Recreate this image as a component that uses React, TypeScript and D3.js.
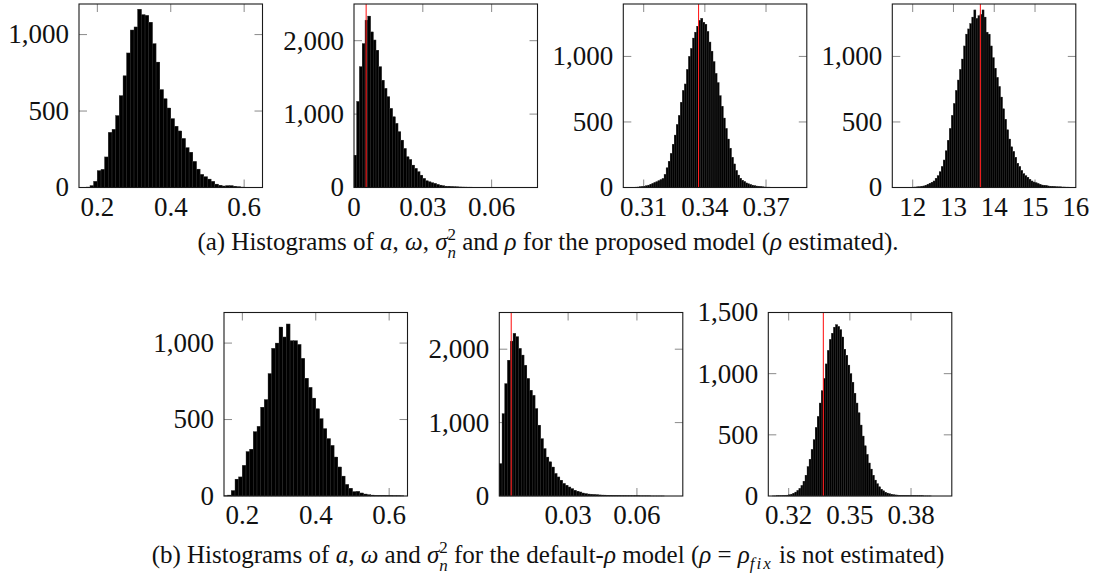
import React, { useEffect, useRef } from 'react';
import * as d3 from 'd3';

// ---- histogram counts ----
// top row: proposed model (rho estimated)
const aTopStart = 0.17;
const aTopWidth = 0.01;
const aTopCounts = [
  3, 12, 40, 110, 118, 200, 360, 380, 470, 600, 730, 880, 1030, 1050, 1165, 1130, 1125, 1080,
  940, 820, 640, 580, 520, 450, 400, 370, 320, 260, 230, 170, 120, 85, 70, 55, 40, 22, 14, 10,
  12, 12, 8, 5, 3, 2, 1
];

const omegaTopStart = 0;
const omegaTopWidth = 0.0012;
const omegaTopCounts = [
  440, 1170, 1645, 1960, 2280, 2335, 2120, 2010, 1870, 1645, 1460, 1350, 1236, 1077, 963, 873,
  760, 645, 530, 418, 380, 305, 260, 214, 168, 123, 91, 77, 64, 55, 41, 32, 23, 18, 16, 12, 11,
  9, 8, 7, 6, 5, 5, 4, 4, 3, 3, 3, 2, 2, 2, 2, 1, 1, 1, 1, 1, 1, 1, 1
];

const sigmaTopStart = 0.303;
const sigmaTopWidth = 0.001;
const sigmaTopCounts = [
  1, 1, 2, 3, 4, 6, 8, 10, 13, 18, 25, 31, 38, 44, 52, 60, 68, 100, 150, 200, 260, 330, 400,
  480, 550, 650, 740, 790, 900, 1000, 1060, 1140, 1185, 1230, 1275, 1290, 1260, 1245, 1190,
  1110, 1040, 960, 870, 800, 700, 620, 530, 450, 370, 300, 230, 180, 130, 95, 70, 55, 45, 35,
  28, 22, 18, 14, 11, 9, 7, 5, 4, 3, 3, 2, 2, 1, 1, 1
];

const rhoTopStart = 11.9;
const rhoTopWidth = 0.05;
const rhoTopCounts = [
  2, 2, 3, 4, 5, 6, 9, 12, 17, 24, 32, 40, 50, 70, 90, 120, 160, 210, 280, 360, 450, 550, 640,
  740, 820, 900, 980, 1080, 1170, 1210, 1250, 1300, 1355, 1290, 1310, 1320, 1355, 1300, 1185,
  1170, 1080, 990, 910, 840, 770, 690, 600, 520, 440, 370, 310, 275, 230, 185, 160, 130, 105,
  90, 78, 62, 50, 42, 36, 30, 24, 19, 17, 15, 12, 10, 9, 8, 6, 5, 5, 4, 4, 3, 3, 2, 2, 1
];

// bottom row: default-rho model
const aBotStart = 0.15;
const aBotWidth = 0.01;
const aBotCounts = [
  1, 6, 35, 110, 125, 200, 290, 305, 420, 455, 580, 630, 800, 965, 1000, 1105, 1040, 1125,
  1015, 1015, 990, 900, 770, 710, 640, 570, 505, 440, 375, 330, 255, 190, 130, 75, 50, 28, 30,
  20, 13, 8, 6, 4, 4, 4, 3, 3, 2, 2, 1
];

const omegaBotStart = 0;
const omegaBotWidth = 0.0012;
const omegaBotCounts = [
  440, 1120, 1530, 1850, 2110, 2215, 2170, 2010, 1920, 1780, 1600, 1440, 1370, 1190, 965, 780,
  645, 530, 465, 395, 305, 260, 215, 170, 145, 123, 100, 77, 64, 55, 41, 32, 27, 23, 20, 18, 15,
  13, 12, 10, 9, 8, 7, 6, 5, 5, 4, 4, 3, 3, 3, 2, 2, 2, 2, 1, 1, 1, 1, 1
];

const sigmaBotStart = 0.312;
const sigmaBotWidth = 0.001;
const sigmaBotCounts = [
  1, 1, 2, 2, 3, 4, 5, 7, 10, 15, 22, 32, 45, 62, 85, 120, 170, 240, 300, 380, 460, 560, 650,
  760, 860, 960, 1080, 1190, 1280, 1330, 1380, 1400, 1385, 1360, 1300, 1200, 1150, 1070, 1000,
  930, 840, 760, 680, 580, 490, 410, 340, 270, 220, 170, 130, 100, 75, 55, 42, 30, 24, 18, 14,
  11, 9, 8, 6, 5, 5, 4, 4, 3, 3, 3, 2, 2, 2, 2, 1, 1, 1, 1
];

// ---- axes ----
const aDomain = [0.15, 0.65];
const omegaDomain = [0, 0.08];
const sigmaTopDomain = [0.3, 0.39];
const rhoDomain = [11.5, 16];
const sigmaBotDomain = [0.31, 0.4];

const aTicks = [0.2, 0.4, 0.6];
const omegaTopTicks = [0, 0.03, 0.06];
const omegaBotTicks = [0.03, 0.06];
const sigmaTopTicks = [0.31, 0.34, 0.37];
const rhoTicks = [12, 13, 14, 15, 16];
const sigmaBotTicks = [0.32, 0.35, 0.38];

const yTicks1000 = [0, 500, 1000];
const yTicks2000 = [0, 1000, 2000];
const yTicks1500 = [0, 500, 1000, 1500];

const yMaxes = [1200, 2500, 1400, 1400, 1200, 2500, 1500];

// red reference lines
const omegaTopMark = 0.0053;
const sigmaTopMark = 0.3369;
const rhoTopMark = 13.66;
const omegaBotMark = 0.0052;
const sigmaBotMark = 0.337;

const SIZE = 183.5;
const LABEL_FONT = '"Liberation Serif", "Times New Roman", serif';

const App = () => {
  const svgRef = useRef<SVGSVGElement>(null);

  useEffect(() => {
    const svg = d3.select(svgRef.current);
    svg.selectAll('*').remove();

    const panels = [
      { counts: aTopCounts, start: aTopStart, w: aTopWidth, dom: aDomain, xt: aTicks, yt: yTicks1000, left: 79, top: 4, mark: null },
      { counts: omegaTopCounts, start: omegaTopStart, w: omegaTopWidth, dom: omegaDomain, xt: omegaTopTicks, yt: yTicks2000, left: 354, top: 4, mark: omegaTopMark },
      { counts: sigmaTopCounts, start: sigmaTopStart, w: sigmaTopWidth, dom: sigmaTopDomain, xt: sigmaTopTicks, yt: yTicks1000, left: 623.3, top: 4, mark: sigmaTopMark },
      { counts: rhoTopCounts, start: rhoTopStart, w: rhoTopWidth, dom: rhoDomain, xt: rhoTicks, yt: yTicks1000, left: 892.3, top: 4, mark: rhoTopMark },
      { counts: aBotCounts, start: aBotStart, w: aBotWidth, dom: aDomain, xt: aTicks, yt: yTicks1000, left: 224, top: 312.5, mark: null },
      { counts: omegaBotCounts, start: omegaBotStart, w: omegaBotWidth, dom: omegaDomain, xt: omegaBotTicks, yt: yTicks2000, left: 499.3, top: 312.5, mark: omegaBotMark },
      { counts: sigmaBotCounts, start: sigmaBotStart, w: sigmaBotWidth, dom: sigmaBotDomain, xt: sigmaBotTicks, yt: yTicks1500, left: 768.3, top: 312.5, mark: sigmaBotMark }
    ];

    const fmtY = d3.format(',');
    const tickLen = 8;

    panels.forEach((p, idx) => {
      const x = d3.scaleLinear().domain(p.dom).range([p.left, p.left + SIZE]);
      const y = d3.scaleLinear().domain([0, yMaxes[idx]]).range([p.top + SIZE, p.top]);
      const g = svg.append('g');
      const x0 = p.left, x1 = p.left + SIZE, y0 = p.top, y1 = p.top + SIZE;

      // inner ticks on all four sides (drawn under the bars)
      p.xt.forEach(t => {
        const px = x(t);
        if (px <= x0 + 0.5 || px >= x1 - 0.5) return;
        g.append('line').attr('x1', px).attr('x2', px).attr('y1', y0).attr('y2', y0 + tickLen)
          .attr('stroke', '#8a8a8a').attr('stroke-width', 1);
        g.append('line').attr('x1', px).attr('x2', px).attr('y1', y1).attr('y2', y1 - tickLen)
          .attr('stroke', '#8a8a8a').attr('stroke-width', 1);
      });
      p.yt.forEach(t => {
        const py = y(t);
        if (py <= y0 + 0.5 || py >= y1 - 0.5) return;
        g.append('line').attr('x1', x0).attr('x2', x0 + tickLen).attr('y1', py).attr('y2', py)
          .attr('stroke', '#8a8a8a').attr('stroke-width', 1);
        g.append('line').attr('x1', x1).attr('x2', x1 - tickLen).attr('y1', py).attr('y2', py)
          .attr('stroke', '#8a8a8a').attr('stroke-width', 1);
      });

      // solid step silhouette under the bars, so no light seams show between them
      const steps = [...p.counts, 0];
      const area = d3.area<number>()
        .x((_d, i) => x(p.start + i * p.w))
        .y0(y(0))
        .y1(d => y(d))
        .curve(d3.curveStepAfter);
      g.append('path').attr('d', area(steps)).attr('fill', '#000');

      // histogram bars
      g.append('g')
        .selectAll('rect')
        .data(p.counts)
        .join('rect')
        .attr('x', (_d, i) => x(p.start + i * p.w))
        .attr('width', (_d, i) => x(p.start + (i + 1) * p.w) - x(p.start + i * p.w))
        .attr('y', d => y(d))
        .attr('height', d => y(0) - y(d))
        .attr('fill', '#000')
        .attr('stroke', '#404040')
        .attr('stroke-width', 0.4);

      // red reference line
      if (p.mark !== null) {
        g.append('line')
          .attr('x1', x(p.mark)).attr('x2', x(p.mark))
          .attr('y1', y0).attr('y2', y1)
          .attr('stroke', '#ff2020').attr('stroke-width', 1.1);
      }

      // frame
      g.append('rect')
        .attr('x', x0).attr('y', y0).attr('width', SIZE).attr('height', SIZE)
        .attr('fill', 'none').attr('stroke', '#1a1a1a').attr('stroke-width', 1.1);

      // tick labels
      p.xt.forEach(t => {
        g.append('text')
          .attr('x', x(t)).attr('y', y1 + 28)
          .attr('text-anchor', 'middle')
          .attr('font-family', LABEL_FONT).attr('font-size', 27).attr('fill', '#111')
          .text(String(t));
      });
      p.yt.forEach(t => {
        g.append('text')
          .attr('x', x0 - 10).attr('y', y(t)).attr('dy', '0.33em')
          .attr('text-anchor', 'end')
          .attr('font-family', LABEL_FONT).attr('font-size', 27).attr('fill', '#111')
          .text(fmtY(t));
      });
    });

    // captions
    const caption = (yPos: number, parts: [string, string][]) => {
      const t = svg.append('text')
        .attr('x', 548).attr('y', yPos)
        .attr('text-anchor', 'middle')
        .attr('font-family', LABEL_FONT).attr('font-size', 25).attr('fill', '#111');
      parts.forEach(([kind, s]) => {
        const ts = t.append('tspan').text(s);
        if (kind === 'i') ts.attr('font-style', 'italic');
        if (kind === 'sup') ts.attr('font-size', 17).attr('dy', -10);
        if (kind === 'subn') ts.attr('font-size', 17).attr('font-style', 'italic').attr('dx', -8.5).attr('dy', 18);
        if (kind === 'back') ts.attr('dy', -8);
        if (kind === 'subfix') ts.attr('font-size', 17).attr('font-style', 'italic').attr('dy', 6).attr('letter-spacing', 2);
        if (kind === 'backfix') ts.attr('dy', -6);
      });
    };

    caption(250, [
      ['r', '(a) Histograms of '], ['i', 'a'], ['r', ', '], ['i', 'ω'], ['r', ', '], ['i', 'σ'],
      ['sup', '2'], ['subn', 'n'], ['back', ' and '], ['i', 'ρ'],
      ['r', ' for the proposed model ('], ['i', 'ρ'], ['r', ' estimated).']
    ]);
    caption(563, [
      ['r', '(b) Histograms of '], ['i', 'a'], ['r', ', '], ['i', 'ω'], ['r', ' and '], ['i', 'σ'],
      ['sup', '2'], ['subn', 'n'], ['back', ' for the default-'], ['i', 'ρ'], ['r', ' model ('],
      ['i', 'ρ'], ['r', ' = '], ['i', 'ρ'], ['subfix', 'fix'], ['backfix', ' is not estimated)']
    ]);
  }, []);

  return (
    <svg
      ref={svgRef}
      width={1094}
      height={577}
      style={{ position: 'absolute', left: 0, top: 0, background: '#fff' }}
    />
  );
};

export default App;
